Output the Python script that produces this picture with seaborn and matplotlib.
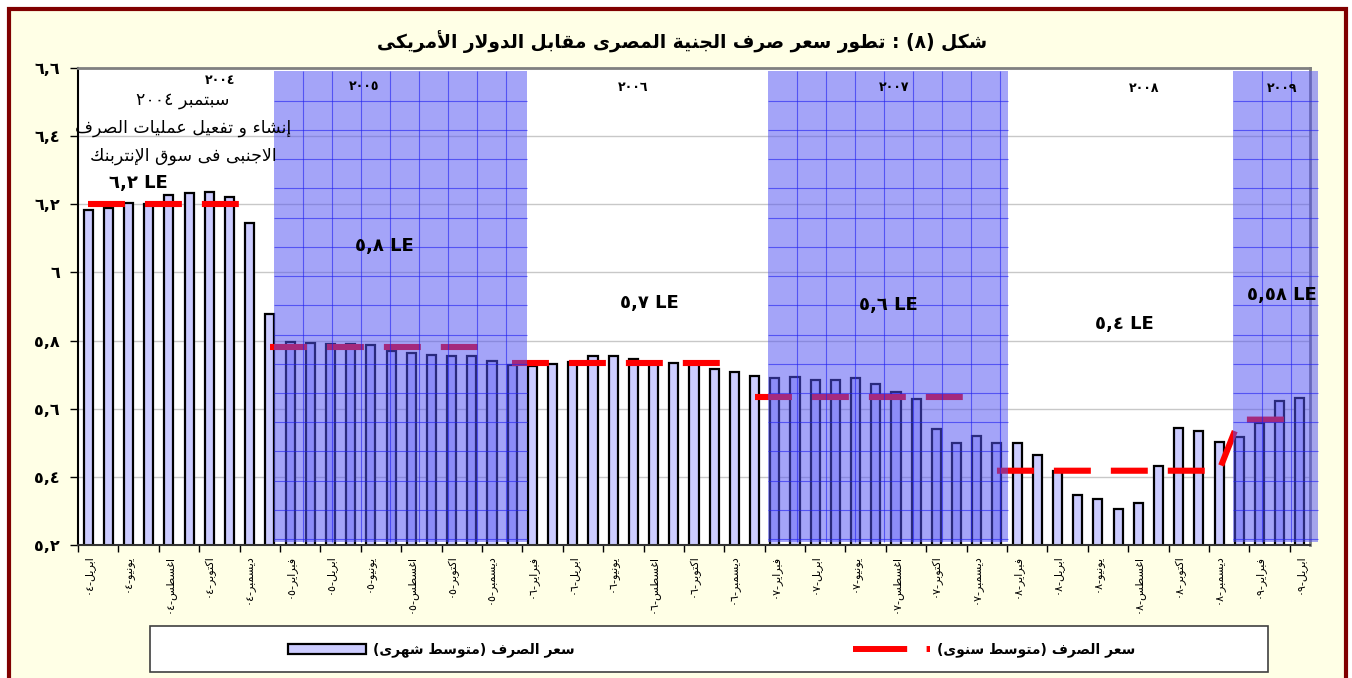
import re
import numpy as np
import pandas as pd
import matplotlib
matplotlib.use("Agg")
import matplotlib.pyplot as plt
from matplotlib.patches import Rectangle, Patch
from matplotlib.lines import Line2D
import seaborn as sns

# monthly average EGP / USD rate, April 2004 .. April 2009
rate_monthly = [
    6.183, 6.190, 6.203, 6.200, 6.227, 6.232, 6.235, 6.222, 6.146,
    5.878, 5.795, 5.792, 5.790, 5.790, 5.788, 5.768, 5.763, 5.758, 5.754, 5.755, 5.740,
    5.729, 5.725, 5.732, 5.738, 5.756, 5.755, 5.745, 5.738, 5.734, 5.735, 5.716, 5.709,
    5.696, 5.691, 5.692, 5.683, 5.685, 5.689, 5.673, 5.649, 5.628, 5.539, 5.499, 5.520,
    5.500, 5.500, 5.463, 5.416, 5.346, 5.335, 5.307, 5.322, 5.432, 5.543, 5.535, 5.503,
    5.516, 5.558, 5.624, 5.630,
]
start_year, start_month = 2004, 4

years = [2004, 2005, 2006, 2007, 2008, 2009]
year_avg = [6.20, 5.78, 5.735, 5.635, 5.418, 5.568]
year_labels = ["٢٠٠٤", "٢٠٠٥", "٢٠٠٦", "٢٠٠٧", "٢٠٠٨", "٢٠٠٩"]
avg_labels = ["٦,٢ LE", "٥,٨ LE", "٥,٧ LE", "٥,٦ LE", "٥,٤ LE", "٥,٥٨ LE"]

month_names = ["يناير", "فبراير", "مارس", "ابريل", "مايو", "يونيو",
               "يوليو", "اغسطس", "سبتمبر", "اكتوبر", "نوفمبر", "ديسمبر"]
y_ticks = [5.2, 5.4, 5.6, 5.8, 6.0, 6.2, 6.4, 6.6]
y_tick_labels = ["٥,٢", "٥,٤", "٥,٦", "٥,٨", "٦", "٦,٢", "٦,٤", "٦,٦"]

title = "شكل (٨) : تطور سعر صرف الجنية المصرى مقابل الدولار الأمريكى"
note_lines = ["سبتمبر ٢٠٠٤", "إنشاء و تفعيل عمليات الصرف", "الاجنبى فى سوق الإنتربنك"]
legend_monthly = "سعر الصرف (متوسط شهرى)"
legend_yearly = "سعر الصرف (متوسط سنوى)"


# --- tiny arabic shaper (matplotlib has no shaping / bidi) ---
FORMS = {  # letter: (isolated code point, number of forms)
    "ء": (0xFE80, 1), "أ": (0xFE83, 2), "إ": (0xFE87, 2), "ا": (0xFE8D, 2),
    "ب": (0xFE8F, 4), "ة": (0xFE93, 2), "ت": (0xFE95, 4), "ج": (0xFE9D, 4),
    "د": (0xFEA9, 2), "ر": (0xFEAD, 2), "ز": (0xFEAF, 2), "س": (0xFEB1, 4),
    "ش": (0xFEB5, 4), "ص": (0xFEB9, 4), "ط": (0xFEC1, 4), "ع": (0xFEC9, 4),
    "غ": (0xFECD, 4), "ف": (0xFED1, 4), "ق": (0xFED5, 4), "ك": (0xFED9, 4),
    "ل": (0xFEDD, 4), "م": (0xFEE1, 4), "ن": (0xFEE5, 4), "ه": (0xFEE9, 4),
    "و": (0xFEED, 2), "ى": (0xFEEF, 2), "ي": (0xFEF1, 4),
}
LAM_ALEF = {"ا": 0xFEFB, "أ": 0xFEF7, "إ": 0xFEF9}


def shape(text):
    out, prev_joins, i = [], False, 0
    while i < len(text):
        c = text[i]
        if c not in FORMS:
            out.append(c)
            prev_joins = False
            i += 1
            continue
        if c == "ل" and i + 1 < len(text) and text[i + 1] in LAM_ALEF:
            out.append(chr(LAM_ALEF[text[i + 1]] + (1 if prev_joins else 0)))
            prev_joins = False
            i += 2
            continue
        base, n = FORMS[c]
        nxt = text[i + 1] if i + 1 < len(text) else ""
        next_joins = n == 4 and nxt in FORMS and FORMS[nxt][1] > 1
        if n == 1:
            code = base
        elif prev_joins and next_joins:
            code = base + 3
        elif prev_joins:
            code = base + 1
        elif next_joins:
            code = base + 2
        else:
            code = base
        out.append(chr(code))
        prev_joins = next_joins
        i += 1
    return "".join(out)


def rtl(text):
    s = shape(text)
    tokens = re.findall(r"[0-9\u0660-\u0669A-Za-z]+(?:[,.][0-9\u0660-\u0669]+)*|.", s)
    mirror = {"(": ")", ")": "("}
    return "".join(mirror.get(t, t) for t in reversed(tokens))


AR_DIGITS = str.maketrans("0123456789", "٠١٢٣٤٥٦٧٨٩")

# --- derived tables ---
n = len(rate_monthly)
month_idx = [(start_month - 1 + i) % 12 for i in range(n)]
month_year = [start_year + (start_month - 1 + i) // 12 for i in range(n)]
tick_labels = [rtl(month_names[m] + "-" + f"{y % 100:02d}".translate(AR_DIGITS))
               for m, y in zip(month_idx, month_year)]

monthly = pd.DataFrame({"pos": range(n), "rate": rate_monthly})
annual = pd.DataFrame({
    "pos": range(n),
    "avg": [year_avg[years.index(y)] for y in month_year],
    # 2008 and 2009 are one unbroken line in the original
    "seg": [min(y, 2008) for y in month_year],
})

W, H = 1352, 678
plt.rcParams["lines.scale_dashes"] = False
plt.rcParams["font.family"] = ["DejaVu Sans"]

fig = plt.figure(figsize=(W / 100, H / 100), dpi=100)
fig.patch.set_facecolor("white")
fig.add_artist(Rectangle((8.5 / W, -0.05), (1346 - 8.5) / W, 1 - 8.5 / H + 0.05,
                         transform=fig.transFigure, facecolor="#FFFFE6",
                         edgecolor="#800000", lw=3, zorder=-5))

ax = fig.add_axes([78 / W, 1 - 545 / H, (1310 - 78) / W, (545 - 68) / H])
ax.set_facecolor("white")

sns.barplot(data=monthly, x="pos", y="rate", color="#CCCCFF", saturation=1,
            edgecolor="black", linewidth=1.6, width=0.45, errorbar=None,
            ax=ax, zorder=2)
sns.lineplot(data=annual, x="pos", y="avg", units="seg", estimator=None,
             color="red", linewidth=4.4, legend=False, ax=ax, zorder=3)
for ln in ax.lines:
    ln.set_dashes([26.6, 14.4])
    ln.set_dash_capstyle("butt")

# blue "graph paper" overlays on alternate years
shade_spans = [(9.21, 21.73), (33.66, 45.54), (56.68, 60.89)]
y0, y1 = 5.21, 6.59
for x0, x1 in shade_spans:
    ax.add_patch(Rectangle((x0, y0), x1 - x0, y1 - y0, facecolor=(0.32, 0.32, 0.95, 0.52),
                           edgecolor="none", zorder=5, clip_on=False))
    ax.vlines(np.arange(x0 + 1.435, x1, 1.435), y0, y1, colors="#2020F0",
              lw=0.8, alpha=0.6, zorder=6, clip_on=False)
    ax.hlines(np.arange(y1 - 0.0858, y0, -0.0858), x0, x1, colors="#2020F0",
              lw=0.8, alpha=0.6, zorder=6, clip_on=False)

ax.set_xlim(-0.5, n - 0.5)
ax.set_ylim(5.2, 6.6)
ax.set_xlabel("")
ax.set_ylabel("")

ax.set_yticks(y_ticks)
ax.set_yticklabels(y_tick_labels, fontsize=11.5, fontweight="bold")
ax.tick_params(axis="y", direction="out", length=6, width=1, pad=7)
ax.set_axisbelow(True)
ax.yaxis.grid(True, color="#C8C8C8", lw=1)
ax.xaxis.grid(False)

ax.set_xticks(np.arange(-0.5, n - 1, 2))
ax.set_xticklabels([])
ax.set_xticks(range(0, n, 2), minor=True)
ax.set_xticklabels(tick_labels[::2], minor=True, rotation=90, fontsize=8,
                   va="top", ha="center")
ax.tick_params(axis="x", which="major", direction="out", length=5, width=1)
ax.tick_params(axis="x", which="minor", length=0, pad=7)

for side, col, lw in [("left", "black", 1.5), ("bottom", "#333333", 1.5),
                      ("top", "#808080", 2), ("right", "#808080", 2)]:
    ax.spines[side].set_color(col)
    ax.spines[side].set_linewidth(lw)

# year names and annual average labels
year_pos = [(6.53, 6.563), (13.66, 6.546), (27.0, 6.543), (39.9, 6.543), (52.3, 6.540), (59.1, 6.540)]
avg_pos = [(2.48, 6.262), (14.65, 6.078), (27.8, 5.911), (39.6, 5.905), (51.3, 5.850), (59.1, 5.934)]
for lab, (xp, yp) in zip(year_labels, year_pos):
    ax.text(xp, yp, lab, ha="center", va="center", fontsize=9, fontweight="bold", zorder=8)
for lab, (xp, yp) in zip(avg_labels, avg_pos):
    ax.text(xp, yp, lab, ha="center", va="center", fontsize=13, fontweight="bold", zorder=8)

for k, line in enumerate(note_lines):
    ax.text(4.7, 6.505 - 0.082 * k, rtl(line), ha="center", va="center",
            fontsize=12.5, zorder=8, clip_on=False)

fig.text(682 / W, 1 - 42 / H, rtl(title), ha="center", va="center",
         fontsize=13.4, fontweight="bold")

# legend below the chart
fig.add_artist(Rectangle((150 / W, 1 - 672 / H), 1118 / W, 46 / H,
                         transform=fig.transFigure, facecolor="white",
                         edgecolor="#404040", lw=1.2, zorder=1))
handles = [
    Patch(facecolor="#CCCCFF", edgecolor="black", lw=1.6),
    Line2D([], [], color="red", lw=4.3, dashes=[39, 14, 4.5, 30], dash_capstyle="butt"),
]
fig.legend(handles, [rtl(legend_monthly), rtl(legend_yearly)], ncol=2, loc="center",
           bbox_to_anchor=(712 / W, 1 - 650 / H), frameon=False, handlelength=5.6,
           columnspacing=20, handletextpad=0.5,
           prop={"size": 10, "weight": "bold"})

fig.savefig("out.png", dpi=100, facecolor=fig.get_facecolor())
